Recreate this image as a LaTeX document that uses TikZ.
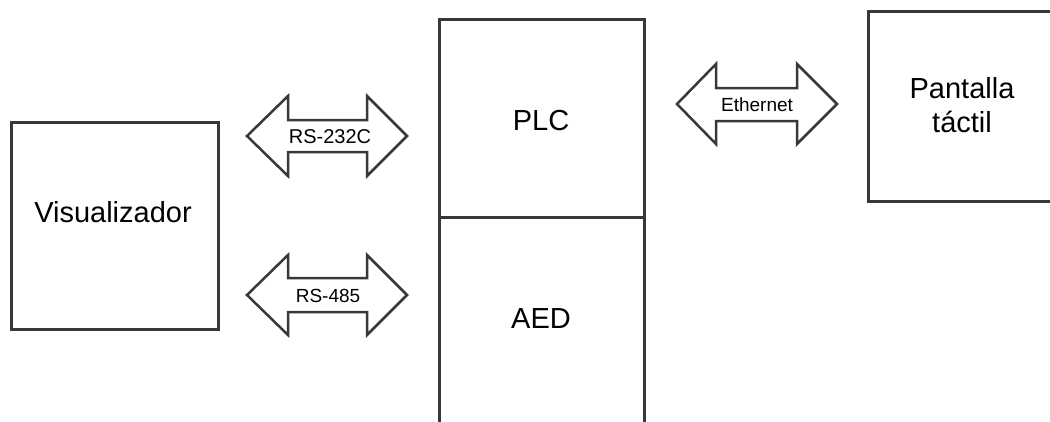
\documentclass[tikz,border=0pt]{standalone}
\usepackage{fontspec}
\setmainfont{Liberation Sans}
\begin{document}
\begin{tikzpicture}[x=1pt,y=-1pt,
  box/.style={draw=black!78,line width=2.5pt,inner sep=0pt,anchor=north west},
  big/.style={font=\fontsize{29}{34}\selectfont,inner sep=0pt,align=center},
  small/.style={font=\fontsize{20}{22}\selectfont,inner sep=0pt},
  smaller/.style={font=\fontsize{19}{22}\selectfont,inner sep=0pt},
  dbl/.style={draw=black!78,line width=2.5pt,fill=white,line join=miter}]
\useasboundingbox (0,0) rectangle (1050,421);
\clip (0,0) rectangle (1050,421);
% boxes
\node[box,minimum width=207pt,minimum height=207pt] (viz) at (10,121) {};
\node[box,minimum width=205pt,minimum height=198pt] (plc) at (438,18) {};
\node[box,minimum width=205pt,minimum height=212pt] (aed) at (438,216) {};
\node[box,minimum width=193pt,minimum height=190pt] (pan) at (867,10) {};
% labels
\node[big] (vizt) at (113,212) {Visualizador};
\node[big] (plct) at (541,121) {PLC};
\node[big] (aedt) at (541,319) {AED};
\node[big] (pant) at (962,105) {Pantalla\\táctil};
% double arrows
\draw[dbl] (247,136) -- (288,96) -- (288,120) -- (367,120) -- (367,96) -- (407,136)
  -- (367,176) -- (367,152) -- (288,152) -- (288,176) -- cycle;
\node[small] (rs232) at (330,137) {RS-232C};
\draw[dbl] (247,295) -- (288,255) -- (288,278) -- (367,278) -- (367,255) -- (407,295)
  -- (367,335) -- (367,312) -- (288,312) -- (288,335) -- cycle;
\node[smaller] (rs485) at (328,296) {RS-485};
\draw[dbl] (677,104) -- (716,64) -- (716,88) -- (797,88) -- (797,64) -- (837,104)
  -- (797,144) -- (797,121) -- (716,121) -- (716,144) -- cycle;
\node[smaller] (eth) at (757,105) {Ethernet};
\end{tikzpicture}
\end{document}
